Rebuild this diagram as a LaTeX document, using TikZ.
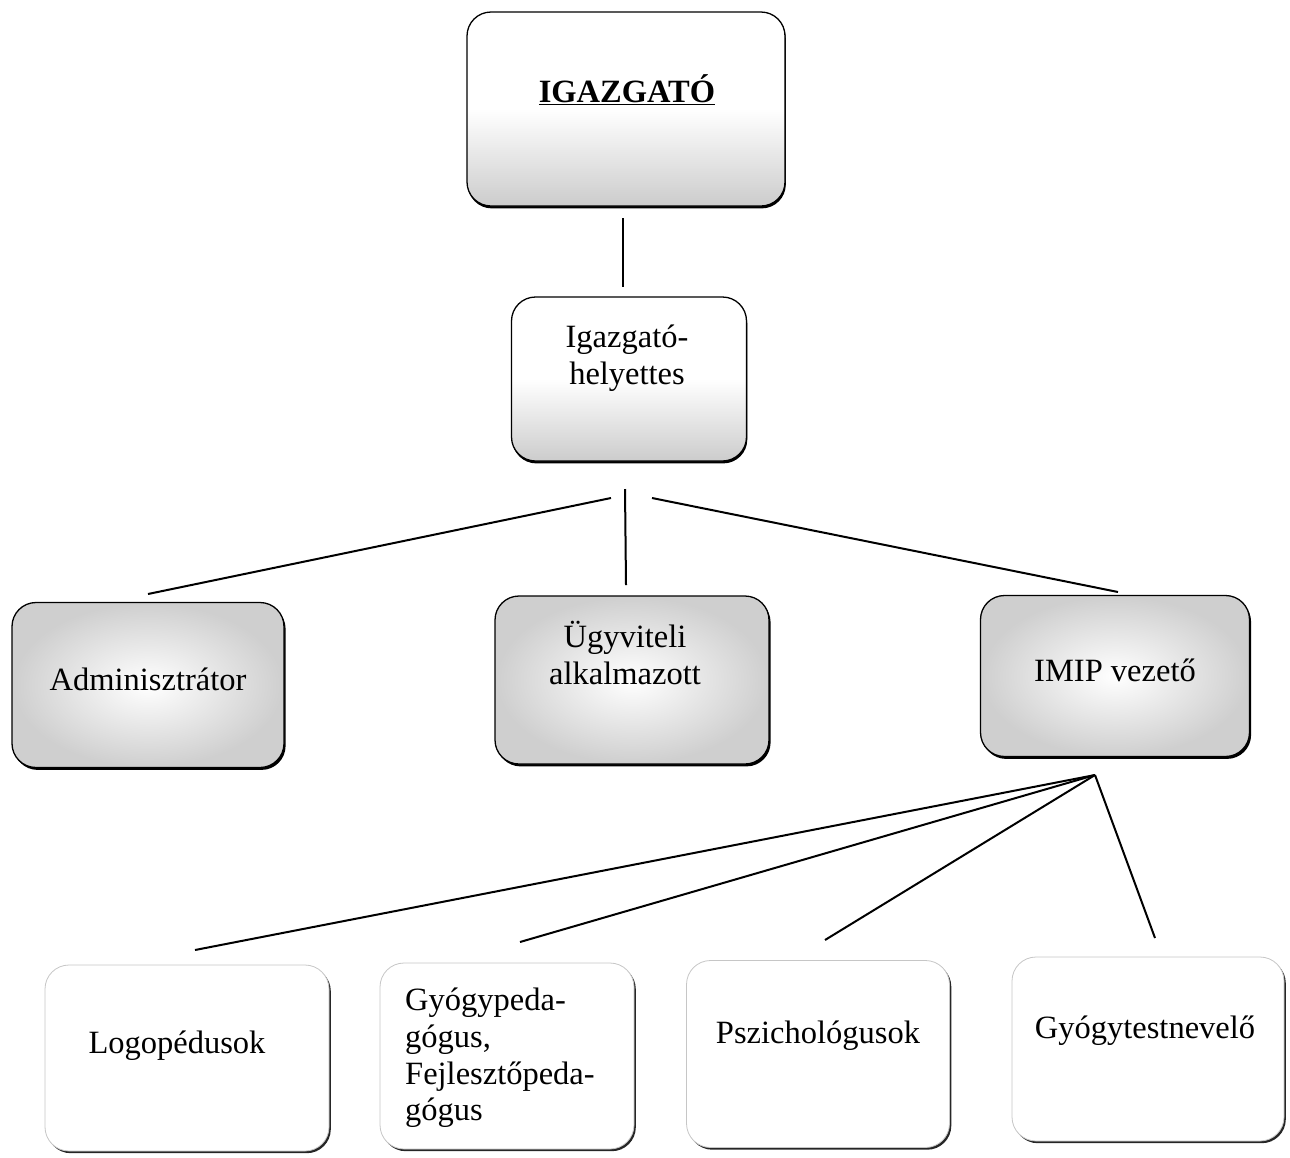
\documentclass[tikz,border=0pt]{standalone}
\usepackage{fontspec}
\setmainfont{Liberation Serif}
\usetikzlibrary{shadows}
\begin{document}
\begin{tikzpicture}[x=1pt,y=-1pt,
  boxbase/.style={rectangle, rounded corners=24pt, inner sep=0pt},
  topbox/.style={boxbase, draw=black, line width=1.3pt,
     top color=white, bottom color=gray!40, middle color=white,
     general shadow={fill=black, shadow xshift=0.8pt, shadow yshift=-2.4pt}},
  midbox/.style={boxbase, draw=black, line width=1.3pt,
     shading=radial, inner color=white, outer color=gray!38,
     general shadow={fill=black, shadow xshift=1.6pt, shadow yshift=-2.4pt}},
  lowbox/.style={boxbase, draw=gray!45, line width=0.8pt, fill=white,
     general shadow={fill=black!85, shadow xshift=1.8pt, shadow yshift=-2.2pt}},
  txt/.style={inner sep=0pt, align=center, font=\fontsize{32.5}{36.7}\selectfont},
  conn/.style={line width=2pt, draw=black}]
\useasboundingbox (0,0) rectangle (1290,1157);

% boxes
\node[topbox, minimum width=318pt, minimum height=194pt] (dir) at (626,109) {};
\node[txt] (dirt) at (627,90) {\textbf{\underline{IGAZGATÓ}}};

\node[topbox, minimum width=235pt, minimum height=164pt] (dep) at (629,379) {};
\node[txt] (dept) at (627,358) {Igazgató-\\helyettes};

\node[midbox, minimum width=272pt, minimum height=165pt] (adm) at (148,685) {};
\node[txt] (admt) at (148,679) {Adminisztrátor};

\node[midbox, minimum width=274pt, minimum height=168pt] (ugy) at (632,680) {};
\node[txt] (ugyt) at (625,653) {Ügyviteli\\alkalmazott};

\node[midbox, minimum width=269pt, minimum height=161pt] (imip) at (1115,676) {};
\node[txt] (imipt) at (1115,670) {IMIP vezető};

\node[lowbox, minimum width=284pt, minimum height=186pt] (logo) at (187,1058) {};
\node[txt] (logot) at (177,1046) {Logopédusok};

\node[lowbox, minimum width=254pt, minimum height=186pt] (gyp) at (507,1056) {};
\node[txt, align=left, anchor=west] (gypt) at (405,1058) {Gyógypeda-\\gógus,\\Fejlesztőpeda-\\gógus};

\node[lowbox, minimum width=263pt, minimum height=187pt] (psz) at (818,1054) {};
\node[txt] (pszt) at (818,1036) {Pszichológusok};

\node[lowbox, minimum width=272pt, minimum height=184pt] (gyt) at (1148,1049) {};
\node[txt] (gytt) at (1145,1031) {Gyógytestnevelő};

% connector end points
\coordinate (a1) at (623,218);
\coordinate (a2) at (623,287);
\coordinate (b0) at (625,489);
\coordinate (bl) at (611,498);
\coordinate (br) at (652,498);
\coordinate (e1) at (148,594);
\coordinate (e2) at (626,585);
\coordinate (e3) at (1118,592);
\coordinate (ap) at (1095,775);
\coordinate (f1) at (195,950);
\coordinate (f2) at (520,942);
\coordinate (f3) at (825,940);
\coordinate (f4) at (1155,938);

\draw[conn] (a1) -- (a2);
\draw[conn] (bl) -- (e1);
\draw[conn] (b0) -- (e2);
\draw[conn] (br) -- (e3);
\draw[conn] (ap) -- (f1);
\draw[conn] (ap) -- (f2);
\draw[conn] (ap) -- (f3);
\draw[conn] (ap) -- (f4);
\end{tikzpicture}
\end{document}
